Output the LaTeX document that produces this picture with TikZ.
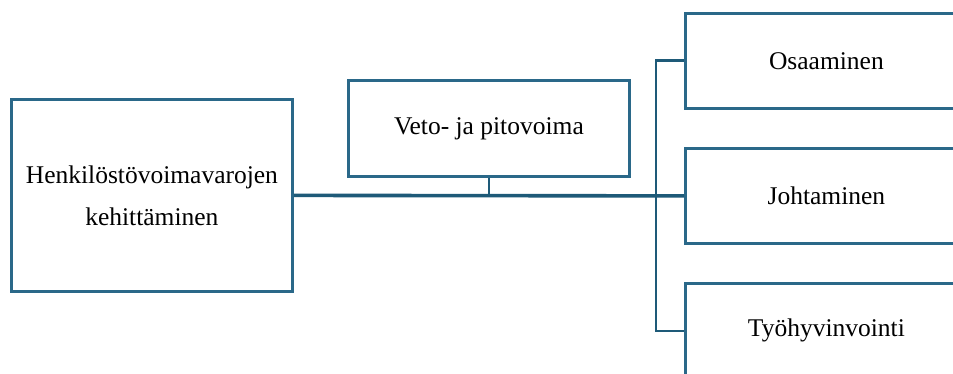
\documentclass[tikz,border=0pt]{standalone}
\usepackage{fontspec}
\setmainfont{Liberation Serif}
\definecolor{boxc}{HTML}{2A6889}
\definecolor{linec}{HTML}{1E5A78}
\begin{document}
\begin{tikzpicture}[x=1pt,y=-1pt,
  box/.style={draw=boxc, line width=2.8pt, fill=white, inner sep=0pt,
    align=center, anchor=north west,
    font=\fontsize{25.5}{42}\selectfont},
  link/.style={draw=linec, line width=2.8pt},
  trunk/.style={draw=linec, line width=3.6pt}]
\clip (0,0) rectangle (953,374);
\fill[white] (0,0) rectangle (953,374);
\node[box, minimum width=281pt, minimum height=192pt] (hr) at (10,98)
  {Henkilöstövoimavarojen\\kehittäminen};
\node[box, minimum width=281pt, minimum height=96pt] (veto) at (347,79)
  {Veto- ja pitovoima};
\node[box, minimum width=282pt, minimum height=95pt] (osa) at (684,12)
  {Osaaminen};
\node[box, minimum width=282pt, minimum height=95pt] (joh) at (684,147)
  {Johtaminen};
\node[box, minimum width=282pt, minimum height=95pt] (tyo) at (684,282)
  {Työhyvinvointi};
\coordinate (bus) at (656,0);
% connectors
\draw[trunk] (hr.east) -- (joh.west);
\draw[link] (veto.south) -- (veto.south |- hr.east);
\draw[link] (osa.west) -- (osa.west -| bus) -- (tyo.west -| bus) -- (tyo.west);
\end{tikzpicture}
\end{document}
